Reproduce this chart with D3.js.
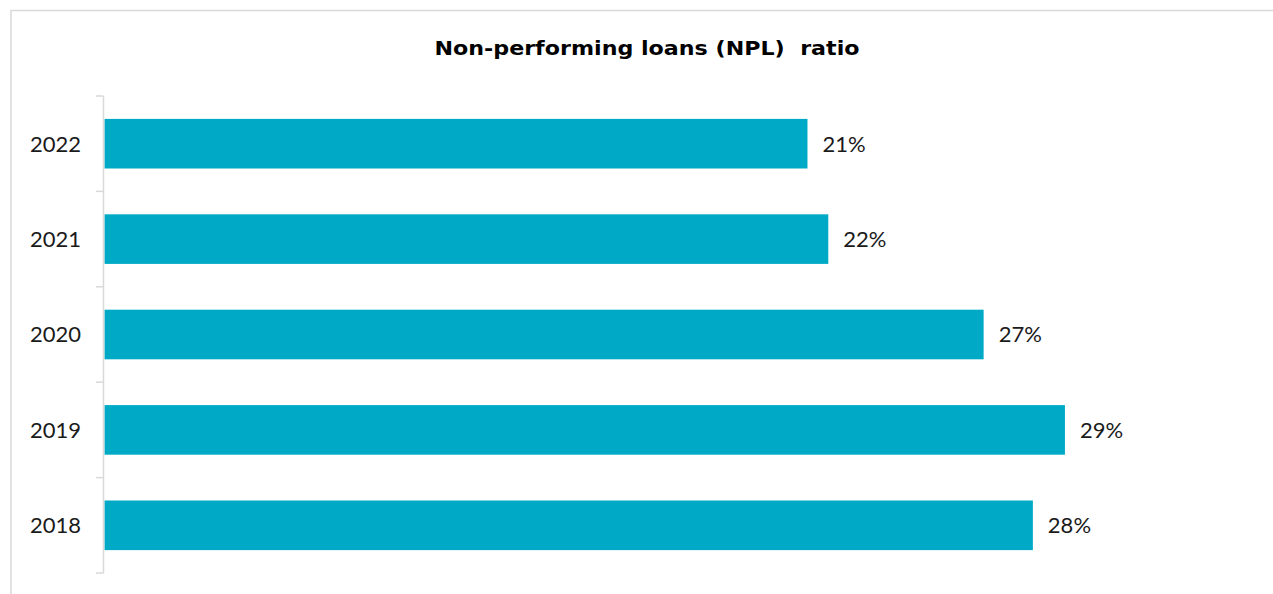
<!DOCTYPE html>
<html>
<head>
<meta charset="utf-8">
<script src="https://cdn.jsdelivr.net/npm/d3@7"></script>
<style>
  body { margin: 0; background: #fff; }
  svg { display: block; font-family: "Century Gothic", Lato, "Open Sans", sans-serif; }
</style>
</head>
<body>
<div id="chart"></div>
<script>
// data
var years = ["2022", "2021", "2020", "2019", "2018"];
var nplRatio = [0.2127, 0.219, 0.266, 0.2906, 0.2809];
var chartTitle = "Non-performing loans (NPL)  ratio";

var width = 1273, height = 594;
var barColor = "#00aac6";
var axisColor = "#d9d9d9";

var svg = d3.select("#chart")
    .append("svg")
    .attr("width", width)
    .attr("height", height);

// outer frame of the chart area
svg.append("rect")
    .attr("x", 11)
    .attr("y", 10.5)
    .attr("width", width)
    .attr("height", height)
    .attr("fill", "none")
    .attr("stroke", axisColor)
    .attr("stroke-width", 1.5);

svg.append("text")
    .attr("x", 647)
    .attr("y", 55)
    .attr("text-anchor", "middle")
    .attr("font-family", "'Century Gothic', 'DejaVu Sans', sans-serif")
    .attr("font-weight", "bold")
    .attr("font-size", 19.5)
    .attr("textLength", 425)
    .attr("lengthAdjust", "spacingAndGlyphs")
    .style("white-space", "pre")
    .attr("fill", "#000")
    .text(chartTitle);

var x = d3.scaleLinear()
    .domain([0, 0.35])
    .range([104.5, 104.5 + 35 * 33.05]);

var y = d3.scaleBand()
    .domain(years)
    .range([96, 573])
    .paddingInner(0.48)
    .paddingOuter(0.24);

var data = years.map(function(d, i) { return { year: d, value: nplRatio[i] }; });

svg.selectAll(".bar")
    .data(data)
    .enter()
    .append("rect")
    .attr("class", "bar")
    .attr("x", x(0))
    .attr("y", function(d) { return y(d.year); })
    .attr("width", function(d) { return x(d.value) - x(0); })
    .attr("height", y.bandwidth())
    .attr("fill", barColor);

// category axis: line plus boundary ticks between bands
var boundaries = d3.range(years.length + 1).map(function(i) { return 96 + i * (573 - 96) / years.length; });

svg.append("line")
    .attr("x1", 103.5).attr("x2", 103.5)
    .attr("y1", 96).attr("y2", 573)
    .attr("stroke", axisColor)
    .attr("stroke-width", 1.5);

svg.selectAll(".tick")
    .data(boundaries)
    .enter()
    .append("line")
    .attr("class", "tick")
    .attr("x1", 96).attr("x2", 103.5)
    .attr("y1", function(d) { return d; })
    .attr("y2", function(d) { return d; })
    .attr("stroke", axisColor)
    .attr("stroke-width", 1.5);

svg.selectAll(".year")
    .data(years)
    .enter()
    .append("text")
    .attr("class", "year")
    .attr("x", 81)
    .attr("y", function(d) { return y(d) + y.bandwidth() / 2; })
    .attr("dy", "0.36em")
    .attr("text-anchor", "end")
    .attr("font-size", 22)
    .attr("fill", "#1a1a1a")
    .text(function(d) { return d; });

var fmt = d3.format(".0%");
svg.selectAll(".value")
    .data(data)
    .enter()
    .append("text")
    .attr("class", "value")
    .attr("x", function(d) { return x(d.value) + 15; })
    .attr("y", function(d) { return y(d.year) + y.bandwidth() / 2; })
    .attr("dy", "0.36em")
    .attr("font-size", 22)
    .attr("fill", "#1a1a1a")
    .text(function(d) { return fmt(d.value); });
</script>
</body>
</html>
